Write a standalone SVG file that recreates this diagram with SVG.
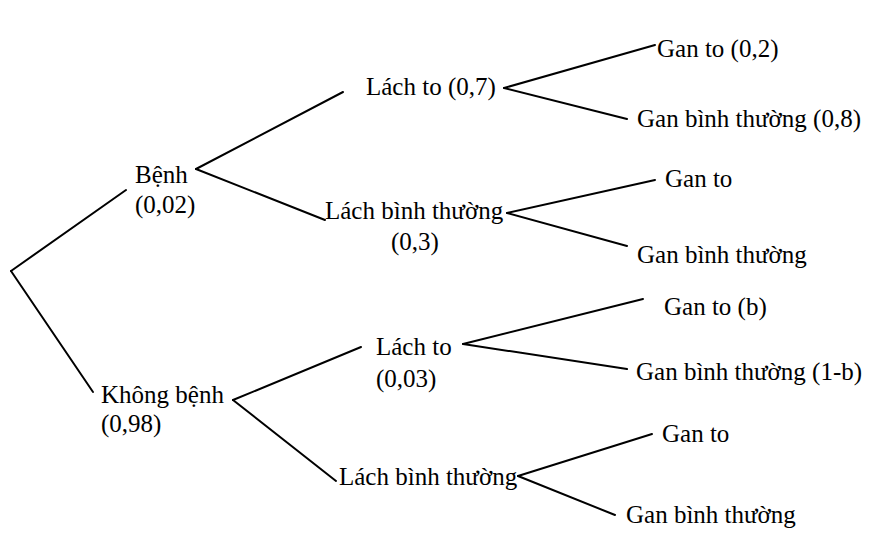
<svg xmlns="http://www.w3.org/2000/svg" width="878" height="547" viewBox="0 0 878 547">
<style>
text { font-family: 'Liberation Serif', Tinos, 'Times New Roman', 'DejaVu Serif', serif; font-size: 25px; fill: #000; }
.c line { stroke: #000; stroke-width: 2; stroke-linecap: round; }
</style>
<rect width="878" height="547" fill="#fff"/>
<g class="c" id="connectors">
<line x1="11" y1="271" x2="126" y2="190"/>
<line x1="11" y1="271" x2="93" y2="392"/>
<line x1="196" y1="169" x2="343" y2="92"/>
<line x1="196" y1="169" x2="325" y2="220"/>
<line x1="504" y1="88" x2="655" y2="45"/>
<line x1="504" y1="88" x2="627" y2="119"/>
<line x1="507" y1="213" x2="655" y2="180"/>
<line x1="507" y1="213" x2="627" y2="246"/>
<line x1="233" y1="400" x2="361" y2="347"/>
<line x1="233" y1="400" x2="336" y2="481"/>
<line x1="463" y1="344" x2="643" y2="299"/>
<line x1="463" y1="344" x2="627" y2="369"/>
<line x1="518" y1="476" x2="652" y2="434"/>
<line x1="518" y1="476" x2="615" y2="515"/>
</g>
<g id="benh"><text x="135" y="183">Bệnh</text><text x="135" y="213">(0,02)</text></g>
<g id="khong-benh"><text x="101" y="403">Không bệnh</text><text x="101" y="432">(0,98)</text></g>
<g id="lach-to-1"><text x="366" y="95">Lách to (0,7)</text></g>
<g id="lach-bt-1"><text x="325" y="219">Lách bình thường</text><text x="391" y="250">(0,3)</text></g>
<g id="lach-to-2"><text x="376" y="355">Lách to</text><text x="376" y="387">(0,03)</text></g>
<g id="lach-bt-2"><text x="339" y="485">Lách bình thường</text></g>
<g id="gan-to-1"><text x="657" y="57">Gan to (0,2)</text></g>
<g id="gan-bt-1"><text x="637" y="127">Gan bình thường (0,8)</text></g>
<g id="gan-to-2"><text x="665" y="187">Gan to</text></g>
<g id="gan-bt-2"><text x="637" y="263">Gan bình thường</text></g>
<g id="gan-to-3"><text x="664" y="315">Gan to (b)</text></g>
<g id="gan-bt-3"><text x="636" y="380">Gan bình thường (1-b)</text></g>
<g id="gan-to-4"><text x="662" y="442">Gan to</text></g>
<g id="gan-bt-4"><text x="626" y="523">Gan bình thường</text></g>
</svg>
